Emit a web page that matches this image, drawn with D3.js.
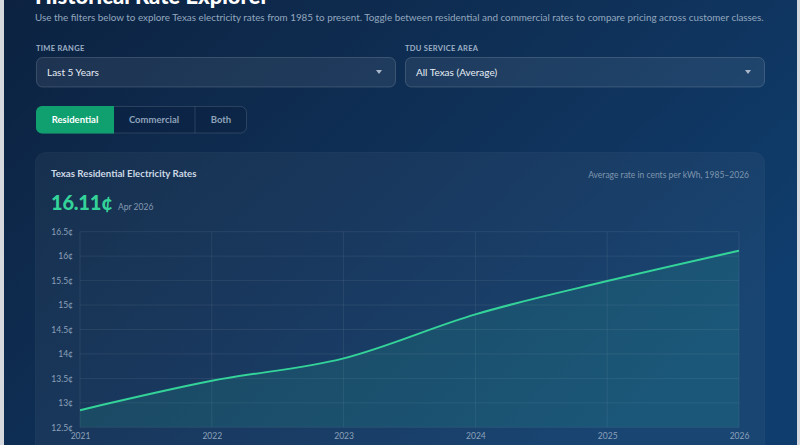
<!DOCTYPE html>
<html><head><meta charset="utf-8">
<script src="https://cdn.jsdelivr.net/npm/d3@7"></script>
<style>
html,body{margin:0;padding:0;background:#d9dde2;}
svg{display:block;font-family:Lato,"Open Sans",sans-serif;}
</style></head>
<body><svg id="c" width="800" height="445"></svg>
<script>
const years = [2021, 2022, 2023, 2024, 2025, 2026];
const residential = [12.85, 13.45, 13.91, 14.81, 15.49, 16.11];
const yTicks = [12.5, 13, 13.5, 14, 14.5, 15, 15.5, 16, 16.5];
const timeRanges = ["Last 5 Years"];
const serviceAreas = ["All Texas (Average)"];
const toggles = ["Residential", "Commercial", "Both"];
const latestValue = "16.11¢";
const latestLabel = "Apr 2026";

const svg = d3.select("#c");
const defs = svg.append("defs");
const bg = defs.append("linearGradient").attr("id","bg").attr("x1","0").attr("y1","0").attr("x2","1").attr("y2","0.6");
bg.append("stop").attr("offset","0").attr("stop-color","#0c2240");
bg.append("stop").attr("offset","0.5").attr("stop-color","#0f2f55");
bg.append("stop").attr("offset","1").attr("stop-color","#0f3d6d");

svg.append("rect").attr("x",0).attr("y",0).attr("width",800).attr("height",445).attr("fill","#d5d9de");
svg.append("rect").attr("x",4).attr("y",0).attr("width",793).attr("height",445).attr("fill","url(#bg)");

// title (cut off at top, as in the reference)
svg.append("text").attr("x",35).attr("y",4).attr("fill","#fff").attr("font-size",22).attr("font-weight",900)
  .text("Historical Rate Explorer");
svg.append("text").attr("x",35).attr("y",20.5).attr("fill","#93a8bf").attr("font-size",9.85)
  .text("Use the filters below to explore Texas electricity rates from 1985 to present. Toggle between residential and commercial rates to compare pricing across customer classes.");

// selects
function select(x, w, label, value){
  svg.append("text").attr("x",x).attr("y",50.5).attr("fill","#9db0c5").attr("font-size",7.5)
    .attr("font-weight",700).attr("letter-spacing",0.3).text(label);
  svg.append("rect").attr("x",x+0.5).attr("y",57.5).attr("width",w).attr("height",29.5).attr("rx",6)
    .attr("fill","rgba(255,255,255,0.07)").attr("stroke","rgba(255,255,255,0.16)");
  svg.append("text").attr("x",x+11).attr("y",75.5).attr("fill","#e8eef5").attr("font-size",10).text(value);
  svg.append("path").attr("d",`M${x+w-19},70 l6,0 l-3,4 z`).attr("fill","#a9b8c9");
}
select(36, 359, "TIME RANGE", timeRanges[0]);
select(405, 359, "TDU SERVICE AREA", serviceAreas[0]);

// toggle
const tg = svg.append("g");
tg.append("rect").attr("x",36.5).attr("y",106.5).attr("width",210).attr("height",26.5).attr("rx",6)
  .attr("fill","rgba(10,30,60,0.35)").attr("stroke","rgba(255,255,255,0.13)");
tg.append("path").attr("d","M42,106 H114 V133.5 H42 A6,6 0 0 1 36,127.5 V112 A6,6 0 0 1 42,106 Z").attr("fill","#10a070");
tg.append("line").attr("x1",195).attr("x2",195).attr("y1",106.5).attr("y2",133).attr("stroke","rgba(255,255,255,0.13)");
const tx = [75, 154, 221];
toggles.forEach((t,i)=>{
  tg.append("text").attr("x",tx[i]).attr("y",123).attr("text-anchor","middle").attr("font-size",9.5)
    .attr("font-weight",700).attr("fill", i===0?"#ffffff":"#8ea3ba").text(t);
});

// card
svg.append("rect").attr("x",35.5).attr("y",152.5).attr("width",729).attr("height",320).attr("rx",10)
  .attr("fill","rgba(255,255,255,0.045)").attr("stroke","rgba(255,255,255,0.04)");
svg.append("text").attr("x",51).attr("y",177).attr("fill","#cdd9e5").attr("font-size",9.7).attr("font-weight",700)
  .text("Texas Residential Electricity Rates");
svg.append("text").attr("x",749).attr("y",178).attr("text-anchor","end").attr("fill","#7f96ae").attr("font-size",8.5)
  .text("Average rate in cents per kWh, 1985–2026");
svg.append("text").attr("x",51).attr("y",210).attr("fill","#34d399").attr("font-size",20).attr("font-weight",900)
  .attr("letter-spacing",-0.2).text(latestValue);
svg.append("text").attr("x",118).attr("y",210).attr("fill","#8599b0").attr("font-size",8.5).text(latestLabel);

// chart
const x = d3.scaleLinear().domain([years[0], years[years.length-1]]).range([80, 739]);
const y = d3.scaleLinear().domain([12.5, 16.5]).range([427.3, 231.7]);
const data = years.map((yr,i)=>({yr, v: residential[i]}));

const g = svg.append("g");
g.append("g").selectAll("line").data(yTicks).join("line")
  .attr("x1",80).attr("x2",739).attr("y1",d=>y(d)).attr("y2",d=>y(d))
  .attr("stroke","rgba(255,255,255,0.07)");
g.append("g").selectAll("line").data(years).join("line")
  .attr("x1",d=>x(d)).attr("x2",d=>x(d)).attr("y1",231.7).attr("y2",427.3)
  .attr("stroke","rgba(255,255,255,0.07)");

const area = d3.area().x(d=>x(d.yr)).y0(y(12.5)).y1(d=>y(d.v)).curve(d3.curveMonotoneX);
const line = d3.line().x(d=>x(d.yr)).y(d=>y(d.v)).curve(d3.curveMonotoneX);
g.append("path").datum(data).attr("d",area).attr("fill","rgba(45,205,160,0.13)");
g.append("path").datum(data).attr("d",line).attr("fill","none").attr("stroke","#34d399").attr("stroke-width",2);

const yAxis = d3.axisLeft(y).tickValues(yTicks).tickSize(0).tickPadding(0).tickFormat(d=>d3.format("~g")(d)+"¢");
const ya = g.append("g").attr("transform","translate(73,0)").call(yAxis);
ya.select(".domain").remove();
ya.selectAll("text").attr("fill","#8da2b9").attr("font-size",8.5).attr("font-family","Lato,sans-serif");

const xAxis = d3.axisBottom(x).tickValues(years).tickSize(0).tickPadding(0).tickFormat(d3.format("d"));
const xa = g.append("g").attr("transform","translate(0,433)").call(xAxis);
xa.select(".domain").remove();
xa.selectAll("text").attr("fill","#8da2b9").attr("font-size",8.5).attr("font-family","Lato,sans-serif");
</script></body></html>
